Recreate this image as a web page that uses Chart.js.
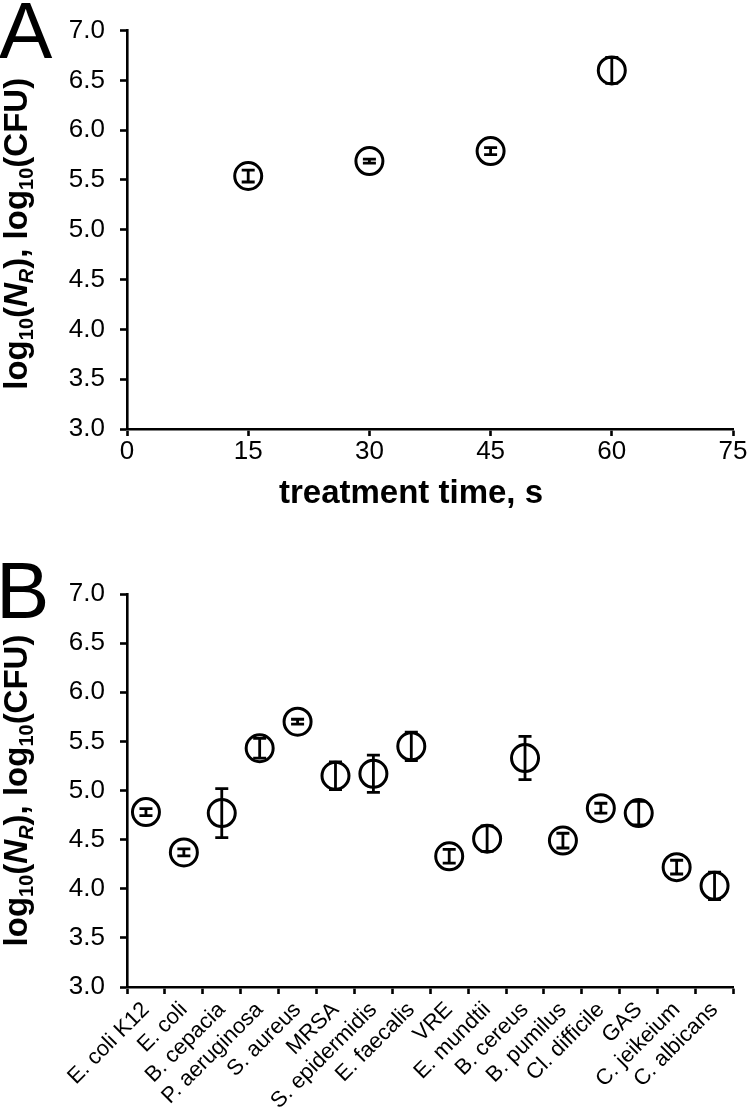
<!DOCTYPE html>
<html><head><meta charset="utf-8">
<script src="https://cdn.jsdelivr.net/npm/chart.js@4/dist/chart.umd.min.js"></script>
<style>
body{margin:0;background:#fff;}
#wa{position:absolute;left:0;top:0;width:750px;height:530px;}
#wb{position:absolute;left:0;top:530px;width:750px;height:579px;}
</style></head>
<body>
<div id="wa"><canvas id="ca"></canvas></div>
<div id="wb"><canvas id="cb"></canvas></div>
<script>
// Panel A data
const timeSec = [15, 30, 45, 60];
const logA = [5.54, 5.69, 5.79, 6.60];
const errA = [0.06, 0.02, 0.035, 0.13];
const timeTicks = [0, 15, 30, 45, 60, 75];
// Panel B data
const organisms = ["E. coli K12","E. coli","B. cepacia","P. aeruginosa","S. aureus","MRSA","S. epidermidis","E. faecalis","VRE","E. mundtii","B. cereus","B. pumilus","Cl. difficile","GAS","C. jeikeium","C. albicans"];
const logB = [4.78, 4.37, 4.77, 5.43, 5.70, 5.15, 5.17, 5.45, 4.33, 4.51, 5.33, 4.49, 4.82, 4.77, 4.22, 4.03];
const errB = [0.035, 0.035, 0.25, 0.10, 0.025, 0.14, 0.19, 0.145, 0.07, 0.13, 0.22, 0.075, 0.05, 0.12, 0.07, 0.14];
const yTicks = [3.0, 3.5, 4.0, 4.5, 5.0, 5.5, 6.0, 6.5, 7.0];

const FONT = "'Liberation Sans', Arial, Helvetica, sans-serif";
Chart.defaults.font.family = FONT;
Chart.defaults.color = '#000';

const errorBars = {
  id: 'errorBars',
  afterDatasetsDraw(chart) {
    const ctx = chart.ctx, ys = chart.scales.y;
    const ds = chart.data.datasets[0];
    const meta = chart.getDatasetMeta(0);
    ctx.save();
    ctx.strokeStyle = '#000'; ctx.lineWidth = 2.8; ctx.lineCap = 'butt';
    meta.data.forEach((pt, i) => {
      const raw = ds.data[i];
      const v = (typeof raw === 'object') ? raw.y : raw;
      const e = ds.errors[i];
      const x = pt.x;
      const yt = ys.getPixelForValue(v + e), yb = ys.getPixelForValue(v - e);
      ctx.beginPath();
      ctx.moveTo(x, yt); ctx.lineTo(x, yb);
      ctx.moveTo(x - 6.5, yt); ctx.lineTo(x + 6.5, yt);
      ctx.moveTo(x - 6.5, yb); ctx.lineTo(x + 6.5, yb);
      ctx.stroke();
    });
    ctx.restore();
  }
};

function drawYTitle(ctx, cx, cy, size) {
  const sub = Math.round(size * 0.6);
  const segs = [
    {t:'log', f:`bold ${size}px ${FONT}`, dy:0},
    {t:'10', f:`bold ${sub}px ${FONT}`, dy:6},
    {t:'(', f:`bold ${size}px ${FONT}`, dy:0},
    {t:'N', f:`italic bold ${size}px ${FONT}`, dy:0},
    {t:'R', f:`italic bold ${sub}px ${FONT}`, dy:6},
    {t:'), log', f:`bold ${size}px ${FONT}`, dy:0},
    {t:'10', f:`bold ${sub}px ${FONT}`, dy:6},
    {t:'(CFU)', f:`bold ${size}px ${FONT}`, dy:0}
  ];
  ctx.save();
  let total = 0;
  segs.forEach(s => { ctx.font = s.f; s.w = ctx.measureText(s.t).width; total += s.w; });
  ctx.translate(cx, cy);
  ctx.rotate(-Math.PI / 2);
  ctx.fillStyle = '#000';
  ctx.textBaseline = 'alphabetic';
  ctx.textAlign = 'left';
  let x = -total / 2;
  segs.forEach(s => { ctx.font = s.f; ctx.fillText(s.t, x, s.dy); x += s.w; });
  ctx.restore();
}

const titlesPlugin = {
  id: 'titles',
  afterDraw(chart, args, o) {
    const ctx = chart.ctx, ca = chart.chartArea;
    drawYTitle(ctx, o.yTitleX, (ca.top + ca.bottom) / 2 + o.yTitleShift, 33);
    ctx.save();
    ctx.fillStyle = '#000';
    ctx.textBaseline = 'alphabetic';
    ctx.textAlign = 'left';
    ctx.font = `80px ${FONT}`;
    ctx.fillText(o.letter, o.letterX, o.letterY);
    if (o.xTitle) {
      ctx.font = `bold 33px ${FONT}`;
      ctx.textAlign = 'center';
      ctx.fillText(o.xTitle, o.xTitleX, o.xTitleY);
    }
    ctx.restore();
  }
};

const pointStyle = {
  pointStyle: 'circle', pointRadius: 13.5, pointHoverRadius: 13.5,
  pointBorderWidth: 3, pointBorderColor: '#000', pointBackgroundColor: '#fff',
  borderColor: '#000', backgroundColor: '#fff', showLine: false
};

function yScale() {
  return {
    type: 'linear', min: 3, max: 7,
    afterBuildTicks: s => { s.ticks = yTicks.map(v => ({value: v})); },
    ticks: { font: {size: 26}, color: '#000', padding: 15, callback: v => Number(v).toFixed(1) },
    grid: { display: true, drawOnChartArea: false, drawTicks: true, tickLength: 7, tickColor: '#000', tickWidth: 2.6 },
    border: { display: true, color: '#000', width: 2.6 },
    afterFit: s => { s.width = 127; }
  };
}

new Chart(document.getElementById('ca'), {
  type: 'scatter',
  data: { datasets: [Object.assign({
    data: timeSec.map((t, i) => ({x: t, y: logA[i]})),
    errors: errA
  }, pointStyle)] },
  options: {
    responsive: true, maintainAspectRatio: false, animation: false,
    layout: { padding: { top: 29, right: 17, left: 0, bottom: 0 } },
    plugins: { legend: {display: false}, tooltip: {enabled: false},
      titles: { letter: 'A', letterX: -1, letterY: 58, yTitleX: 27, yTitleShift: 4, xTitle: 'treatment time, s', xTitleX: 411, xTitleY: 503 } },
    scales: {
      x: {
        type: 'linear', min: 0, max: 75,
        afterBuildTicks: s => { s.ticks = timeTicks.map(v => ({value: v})); },
        ticks: { font: {size: 26}, color: '#000', padding: 0 },
        grid: { display: true, drawOnChartArea: false, drawTicks: true, tickLength: 7, tickColor: '#000', tickWidth: 2.6 },
        border: { display: true, color: '#000', width: 2.6 },
        afterFit: s => { s.height = 101; }
      },
      y: yScale()
    }
  },
  plugins: [errorBars, titlesPlugin]
});

new Chart(document.getElementById('cb'), {
  type: 'line',
  data: { labels: organisms, datasets: [Object.assign({ data: logB, errors: errB }, pointStyle)] },
  options: {
    responsive: true, maintainAspectRatio: false, animation: false,
    layout: { padding: { top: 64, right: 2, left: 0, bottom: 0 } },
    plugins: { legend: {display: false}, tooltip: {enabled: false},
      titles: { letter: 'B', letterX: -4, letterY: 88, yTitleX: 27, yTitleShift: 0 } },
    scales: {
      x: {
        type: 'category', offset: true,
        ticks: { font: {size: 22}, color: '#000', autoSkip: false, minRotation: 45, maxRotation: 45, padding: 3 },
        grid: { display: true, offset: true, drawOnChartArea: false, drawTicks: true, tickLength: 7, tickColor: '#000', tickWidth: 2.6 },
        border: { display: true, color: '#000', width: 2.6 },
        afterFit: s => { s.height = 122; }
      },
      y: yScale()
    }
  },
  plugins: [errorBars, titlesPlugin]
});
</script>
</body></html>
